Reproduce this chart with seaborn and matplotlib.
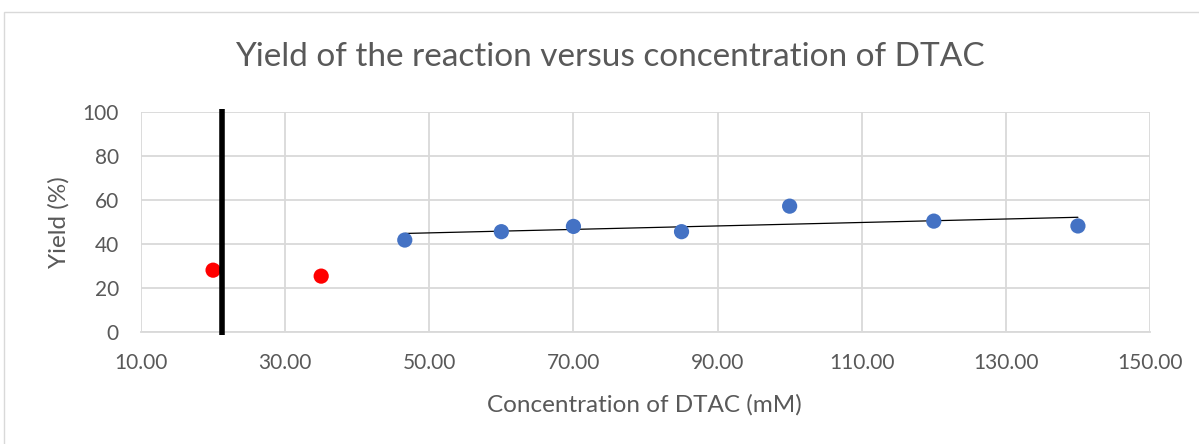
import numpy as np
import pandas as pd
import matplotlib
matplotlib.use("Agg")
import matplotlib.pyplot as plt
from matplotlib.patches import Rectangle
import seaborn as sns

# Excluded low-concentration runs (red) and the series used for the fit (blue)
excluded_conc = [20.0, 35.0]
excluded_yield = [28.1, 25.4]
fit_conc = [46.6, 60.0, 70.0, 85.0, 100.0, 120.0, 140.0]
fit_yield = [41.8, 45.6, 48.0, 45.6, 57.2, 50.4, 48.2]

# Vertical marker separating the regions
divider_x = [21.3, 21.3]
divider_y = [-1.2, 101.5]

x_ticks = [10, 30, 50, 70, 90, 110, 130, 150]
y_ticks = [0, 20, 40, 60, 80, 100]

sns.set_theme(style="whitegrid")
plt.rcParams["font.family"] = ["Lato", "DejaVu Sans"]

text_gray = "#595959"
grid_gray = "#d9d9d9"

fig = plt.figure(figsize=(11.99, 4.44), dpi=100)
fig.patch.set_facecolor("white")
fig.add_artist(Rectangle((4 / 1199, -0.05), 1.1, 1.05 - 12 / 444,
                         transform=fig.transFigure, fill=False,
                         edgecolor=grid_gray, linewidth=1.0))

ax = fig.add_axes([141 / 1199, (444 - 332) / 444, (1150 - 141) / 1199, 220 / 444])

df_fit = pd.DataFrame({"conc": fit_conc, "yield": fit_yield})
df_exc = pd.DataFrame({"conc": excluded_conc, "yield": excluded_yield})

sns.regplot(data=df_fit, x="conc", y="yield", ax=ax, scatter=False, ci=None,
            truncate=True, line_kws={"color": "black", "linewidth": 0.9, "zorder": 3})
sns.scatterplot(data=df_fit, x="conc", y="yield", ax=ax, color="#4472C4", s=120,
                edgecolor="none", zorder=4)
sns.scatterplot(data=df_exc, x="conc", y="yield", ax=ax, color="#FF0000", s=120,
                edgecolor="none", zorder=4)
ax.plot(divider_x, divider_y, color="black", linewidth=4.0, solid_capstyle="butt",
        clip_on=False, zorder=5)

ax.set_xlim(x_ticks[0], x_ticks[-1])
ax.set_ylim(y_ticks[0], y_ticks[-1])
ax.set_xticks(x_ticks)
ax.set_xticklabels([f"{v:.2f}" for v in x_ticks])
ax.set_yticks(y_ticks)
ax.set_yticklabels([str(v) for v in y_ticks])

ax.grid(True, color=grid_gray, linewidth=1.3)
for side in ["top", "right", "left"]:
    ax.spines[side].set_visible(False)
ax.spines["bottom"].set_color(grid_gray)
ax.spines["bottom"].set_linewidth(1.3)
ax.tick_params(axis="both", length=0, colors=text_gray, labelsize=15)
ax.tick_params(axis="x", pad=15)
ax.tick_params(axis="y", pad=16)
ax.set_facecolor("white")

ax.set_xlabel("Concentration of DTAC (mM)", fontsize=17.5, color=text_gray, va="center")
ax.set_ylabel("Yield (%)", fontsize=17.5, color=text_gray, va="center")
ax.xaxis.set_label_coords(0.5 + (644 - 645.5) / 1009, (332 - 405) / 220)
ax.yaxis.set_label_coords((59 - 141) / 1009, 0.5)
fig.text(0.509, (444 - 57) / 444, "Yield of the reaction versus concentration of DTAC",
         ha="center", va="center", fontsize=24, color=text_gray)

fig.savefig("out.png", dpi=100, facecolor="white")
